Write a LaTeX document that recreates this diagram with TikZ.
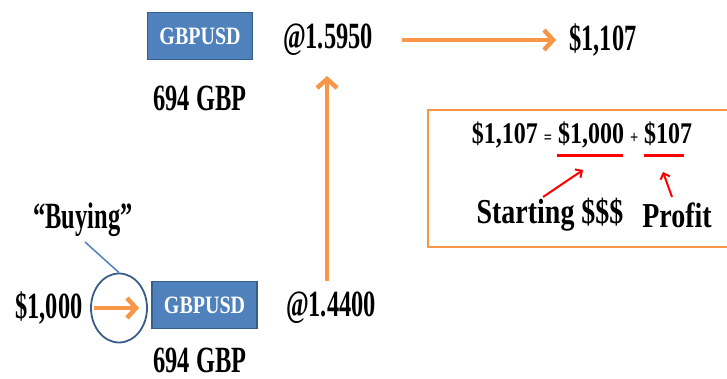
\documentclass[tikz,border=0pt]{standalone}
\usepackage{fontspec}
\newfontfamily\cfa[FakeStretch=0.66]{Liberation Serif}
\newfontfamily\cfb[FakeStretch=0.8]{Liberation Serif}
\usetikzlibrary{arrows.meta,shapes.geometric}
\definecolor{orng}{HTML}{F79646}
\definecolor{bfill}{HTML}{4F81BD}
\definecolor{bdraw}{HTML}{385D8A}
\tikzset{
  lbl/.style={font=\cfa\bfseries\fontsize{37}{40}\selectfont, inner sep=0pt, text=black},
  wlbl/.style={font=\cfb\bfseries\fontsize{35}{38}\selectfont, inner sep=0pt, text=black},
  eqlbl/.style={font=\cfb\bfseries\fontsize{30}{34}\selectfont, inner sep=0pt, text=black},
  pair/.style={draw=bdraw, fill=bfill, line width=1.2pt, minimum width=105pt, minimum height=47pt, inner sep=0pt,
    font=\cfb\bfseries\fontsize{25}{27}\selectfont, text=white},
  bigarrow/.style={draw=orng, line width=4.5pt, -{Straight Barb[length=9pt,width=20pt,line width=4.5pt]}},
  redarrow/.style={draw=red, line width=2pt, -{Straight Barb[length=5pt,width=10pt,line width=2pt]}},
  redline/.style={draw=red, line width=3pt}
}
\begin{document}
\begin{tikzpicture}[x=1pt,y=-1pt]
\useasboundingbox (0,0) rectangle (727,379);
% top row
\node[pair] (p1) at (200,36) {GBPUSD};
\node[lbl] (r1) at (328,40) {@1.5950};
\node[lbl] (res) at (603,40) {\$1,107};
\node[lbl] (g1) at (200,98) {694 GBP};
\coordinate (a1s) at (402,40);
\coordinate (a1e) at (556,40);
\draw[bigarrow] (a1s) -- (a1e);
% vertical arrow
\coordinate (vs) at (327,281);
\coordinate (ve) at (327,76);
\draw[bigarrow] (vs) -- (ve);
% bottom row
\node[lbl] (usd) at (49,308) {\$1,000};
\node[draw=bdraw, line width=1.8pt, ellipse, minimum width=56pt, minimum height=69pt, inner sep=0pt] (circ) at (119,308) {};
\coordinate (b1s) at (94,308);
\coordinate (b1e) at (139,308);
\draw[bigarrow] (b1s) -- (b1e);
\node[pair] (p2) at (204.5,305) {GBPUSD};
\node[lbl] (r2) at (331,308) {@1.4400};
\node[lbl] (g2) at (200,360) {694 GBP};
\node[lbl] (buy) at (83,220) {“Buying”};
\draw[bfill, line width=1.5pt] (85,242) -- (circ.north);
% equation box
\node[draw=orng, line width=2pt, minimum width=302pt, minimum height=137pt, inner sep=0pt] (box) at (579,178.5) {};
\node[eqlbl] (eq) at (582,135) {\$1,107 {\fontsize{18}{20}\selectfont=} \$1,000 {\fontsize{18}{20}\selectfont+} \$107};
\coordinate (u1s) at (557,156); \coordinate (u1e) at (623,156);
\coordinate (u2s) at (644,156); \coordinate (u2e) at (684,156);
\draw[redline] (u1s) -- (u1e);
\draw[redline] (u2s) -- (u2e);
\node[wlbl] (start) at (550,215) {Starting \$\$\$};
\node[wlbl] (prof) at (677,215) {Profit};
\coordinate (ra1s) at (543,197); \coordinate (ra1e) at (583,170);
\coordinate (ra2s) at (672,197); \coordinate (ra2e) at (663,172);
\draw[redarrow] (ra1s) -- (ra1e);
\draw[redarrow] (ra2s) -- (ra2e);
\end{tikzpicture}
\end{document}
